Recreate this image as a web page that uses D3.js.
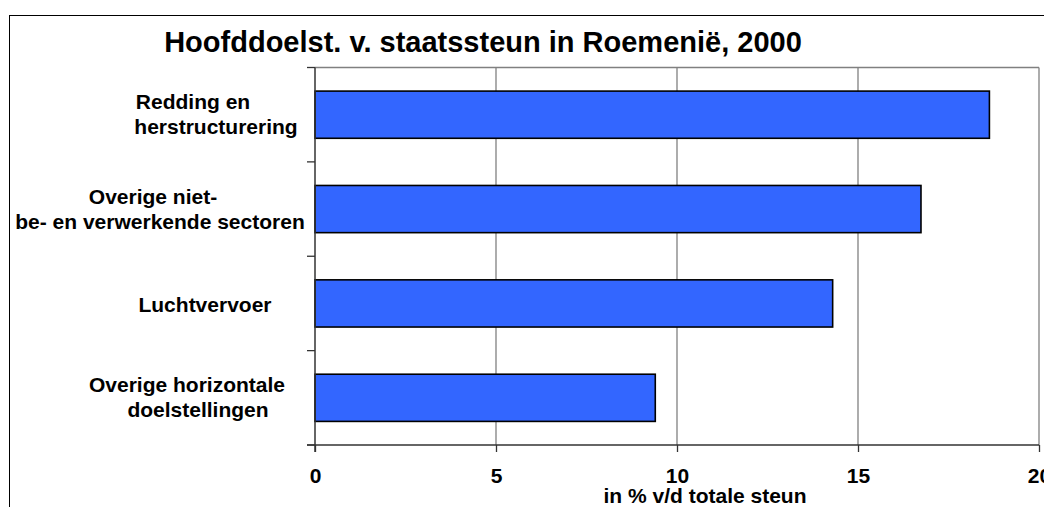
<!DOCTYPE html>
<html>
<head>
<meta charset="utf-8">
<script src="https://cdn.jsdelivr.net/npm/d3@7"></script>
<style>
  body { margin: 0; background: #fff; }
  svg text { font-family: "Liberation Sans", Arial, sans-serif; font-weight: bold; fill: #000; }
</style>
</head>
<body>
<svg id="chart" width="1044" height="507"></svg>
<script>
// chart values
const categories = ["Redding en herstructurering", "Overige niet-be- en verwerkende sectoren",
                    "Luchtvervoer", "Overige horizontale doelstellingen"];
const labelLines = [["Redding en", "herstructurering"],
                    ["Overige niet-", "be- en verwerkende sectoren"],
                    ["Luchtvervoer"],
                    ["Overige horizontale", "doelstellingen"]];
const values = [18.63, 16.74, 14.30, 9.40];
const xTicks = [0, 5, 10, 15, 20];
const title = "Hoofddoelst. v. staatssteun in Roemenië, 2000";
const xTitle = "in % v/d totale steun";

// layout: centre x of each label line (Excel wrapped them a bit unevenly)
const labelLineX = [[193, 216], [153, 160], [205], [187, 198]];

const margin = { top: 67.5, left: 315, right: 1039, bottom: 445 };

const svg = d3.select("#chart");

// outer frame
svg.append("rect")
    .attr("x", 9.5).attr("y", 15.5)
    .attr("width", 1040).attr("height", 500)
    .attr("fill", "none").attr("stroke", "#000").attr("stroke-width", 1);

svg.append("text")
    .attr("x", 483).attr("y", 51.5)
    .attr("text-anchor", "middle")
    .style("font-size", "29px")
    .text(title);

const x = d3.scaleLinear().domain([0, 20]).range([margin.left, margin.right]);
const y = d3.scaleBand().domain(categories)
    .range([margin.top, margin.bottom])
    .paddingInner(0.5).paddingOuter(0.25);

// gridlines + plot frame
svg.append("g")
  .selectAll("line")
  .data(xTicks.slice(1))
  .join("line")
    .attr("x1", d => x(d)).attr("x2", d => x(d))
    .attr("y1", margin.top).attr("y2", margin.bottom)
    .attr("stroke", "#808080").attr("stroke-width", 1.3);

svg.append("line")
    .attr("x1", margin.left).attr("x2", margin.right)
    .attr("y1", margin.top).attr("y2", margin.top)
    .attr("stroke", "#808080").attr("stroke-width", 1.3);

// bars
svg.append("g")
  .selectAll("rect")
  .data(values)
  .join("rect")
    .attr("x", x(0))
    .attr("y", (d, i) => y(categories[i]))
    .attr("width", d => x(d) - x(0))
    .attr("height", y.bandwidth())
    .attr("fill", "#3366FF")
    .attr("stroke", "#000")
    .attr("stroke-width", 1.6);

// x axis
const xAxis = svg.append("g")
    .attr("transform", `translate(0,${margin.bottom})`)
    .call(d3.axisBottom(x).tickValues(xTicks).tickSize(7).tickSizeOuter(0).tickPadding(16))
    .call(g => g.select(".domain").attr("stroke", "#333").attr("stroke-width", 1.5)
        .attr("d", `M${margin.left - 8},0H${margin.right}`));
xAxis.selectAll(".tick line").attr("stroke", "#333").attr("stroke-width", 1.3);
xAxis.selectAll(".tick text").style("font-size", "21px");

svg.append("text")
    .attr("x", 705).attr("y", 503)
    .attr("text-anchor", "middle")
    .style("font-size", "21px")
    .text(xTitle);

// y axis: line with ticks on category boundaries
const bounds = categories.map(c => y(c) - y.step() * 0.25).concat([margin.bottom]);
svg.append("line")
    .attr("x1", margin.left).attr("x2", margin.left)
    .attr("y1", margin.top).attr("y2", margin.bottom + 7)
    .attr("stroke", "#333").attr("stroke-width", 1.5);
svg.append("g")
  .selectAll("line")
  .data(bounds)
  .join("line")
    .attr("x1", margin.left - 8).attr("x2", margin.left)
    .attr("y1", d => d).attr("y2", d => d)
    .attr("stroke", "#333").attr("stroke-width", 1.3);

// category labels
const labels = svg.append("g").style("font-size", "21px");
categories.forEach((c, i) => {
  const lines = labelLines[i];
  const mid = y(c) + y.bandwidth() / 2;
  const top = lines.length === 1 ? mid + 8.5 : mid - 5.5;
  lines.forEach((t, j) => {
    labels.append("text")
        .attr("x", labelLineX[i][j])
        .attr("y", top + j * 25)
        .attr("text-anchor", "middle")
        .text(t);
  });
});
</script>
</body>
</html>
